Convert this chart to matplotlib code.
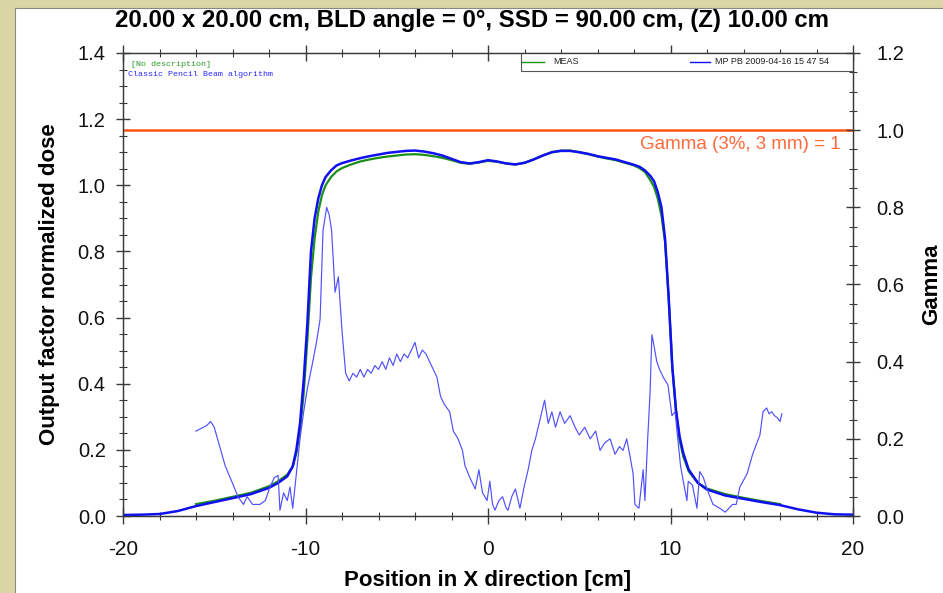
import matplotlib
matplotlib.use("Agg")
import matplotlib.pyplot as plt
from matplotlib.ticker import MultipleLocator, FormatStrFormatter
from matplotlib.patches import Rectangle
from matplotlib.lines import Line2D

# ---------------- data ----------------
title = "20.00 x 20.00 cm, BLD angle = 0°, SSD = 90.00 cm, (Z) 10.00 cm"
x_label = "Position in X direction [cm]"
y_label = "Output factor normalized dose"
y2_label = "Gamma"
legend_meas = "MEAS"
legend_calc = "MP PB 2009-04-16 15 47 54"
note_1 = "[No description]"
note_2 = "Classic Pencil Beam algorithm"
gamma_text = "Gamma (3%, 3 mm) = 1"
gamma_threshold = 1.0

calc_pts = [(-20, 0.003), (-19, 0.004), (-18, 0.006), (-17, 0.015), (-16, 0.03),
            (-15, 0.042), (-14, 0.054), (-13, 0.066), (-12, 0.085), (-11.5, 0.1),
            (-11, 0.12), (-10.7, 0.15), (-10.5, 0.2), (-10.3, 0.28), (-10.1, 0.41),
            (-9.9, 0.58), (-9.7, 0.8), (-9.5, 0.9), (-9.3, 0.96), (-9.1, 1.0),
            (-8.9, 1.025), (-8.6, 1.045), (-8.3, 1.06), (-8, 1.067), (-7.5, 1.075),
            (-7, 1.082), (-6.5, 1.088), (-6, 1.093), (-5.5, 1.098), (-5, 1.101),
            (-4.5, 1.104), (-4, 1.105), (-3.5, 1.102), (-3, 1.097), (-2.5, 1.09),
            (-2, 1.08), (-1.5, 1.07), (-1, 1.066), (-0.5, 1.07), (0, 1.076),
            (0.5, 1.072), (1, 1.066), (1.5, 1.063), (2, 1.068), (2.5, 1.078),
            (3, 1.09), (3.5, 1.1), (4, 1.104), (4.5, 1.104), (5, 1.1),
            (5.5, 1.095), (6, 1.088), (6.5, 1.083), (7, 1.078), (7.5, 1.07),
            (8, 1.062), (8.3, 1.056), (8.6, 1.045), (8.9, 1.028), (9.1, 1.012),
            (9.3, 0.98), (9.5, 0.935), (9.7, 0.84), (9.9, 0.66), (10.1, 0.45),
            (10.3, 0.32), (10.5, 0.24), (10.7, 0.19), (11, 0.14), (11.5, 0.1),
            (12, 0.08), (13, 0.062), (14, 0.052), (15, 0.042), (16, 0.033),
            (17, 0.02), (18, 0.01), (19, 0.005), (20, 0.004)]

meas_pts = [(-16, 0.036), (-15, 0.046), (-14, 0.058), (-13, 0.07), (-12, 0.09),
            (-11.5, 0.105), (-11, 0.125), (-10.7, 0.15), (-10.5, 0.19), (-10.3, 0.26),
            (-10.1, 0.37), (-9.9, 0.53), (-9.7, 0.72), (-9.5, 0.84), (-9.3, 0.92),
            (-9.1, 0.97), (-8.9, 1.0), (-8.6, 1.025), (-8.3, 1.042), (-8, 1.052),
            (-7.5, 1.063), (-7, 1.072), (-6.5, 1.078), (-6, 1.083), (-5.5, 1.087),
            (-5, 1.09), (-4.5, 1.093), (-4, 1.094), (-3.5, 1.092), (-3, 1.088),
            (-2.5, 1.083), (-2, 1.076), (-1.5, 1.068), (-1, 1.065), (-0.5, 1.069),
            (0, 1.074), (0.5, 1.071), (1, 1.066), (1.5, 1.063), (2, 1.068),
            (2.5, 1.078), (3, 1.09), (3.5, 1.1), (4, 1.105), (4.5, 1.105),
            (5, 1.1), (5.5, 1.094), (6, 1.087), (6.5, 1.081), (7, 1.076),
            (7.5, 1.068), (8, 1.06), (8.3, 1.052), (8.6, 1.04), (8.9, 1.015),
            (9.1, 0.995), (9.3, 0.96), (9.5, 0.91), (9.7, 0.83), (9.9, 0.66),
            (10.1, 0.45), (10.3, 0.32), (10.5, 0.23), (10.7, 0.18), (11, 0.135),
            (11.5, 0.1), (12, 0.083), (13, 0.066), (14, 0.055), (15, 0.045),
            (16, 0.036)]

gamma_pts = [(-16.0, 0.22), (-15.8, 0.225), (-15.6, 0.23), (-15.4, 0.235), (-15.2, 0.245),
             (-15.0, 0.23), (-14.7, 0.18), (-14.4, 0.13), (-14.0, 0.085), (-13.7, 0.05),
             (-13.4, 0.03), (-13.2, 0.05), (-12.9, 0.03), (-12.5, 0.03), (-12.2, 0.04),
             (-11.95, 0.075), (-11.7, 0.1), (-11.5, 0.105), (-11.4, 0.015), (-11.2, 0.06),
             (-11.0, 0.04), (-10.85, 0.075), (-10.7, 0.02), (-10.5, 0.11), (-10.3, 0.2),
             (-10.1, 0.27), (-9.9, 0.33), (-9.6, 0.4), (-9.4, 0.45), (-9.2, 0.51),
             (-9.04, 0.74), (-8.84, 0.80), (-8.7, 0.78), (-8.57, 0.74), (-8.38, 0.58),
             (-8.2, 0.62), (-8.0, 0.48), (-7.8, 0.37), (-7.6, 0.35), (-7.4, 0.37),
             (-7.2, 0.36), (-7.0, 0.38), (-6.8, 0.36), (-6.6, 0.38), (-6.4, 0.37),
             (-6.2, 0.39), (-6.0, 0.38), (-5.8, 0.40), (-5.6, 0.38), (-5.4, 0.41),
             (-5.2, 0.39), (-5.0, 0.42), (-4.8, 0.40), (-4.6, 0.42), (-4.4, 0.41),
             (-4.2, 0.43), (-4.0, 0.45), (-3.8, 0.41), (-3.6, 0.43), (-3.4, 0.42),
             (-3.2, 0.40), (-3.0, 0.38), (-2.8, 0.36), (-2.6, 0.31), (-2.4, 0.29),
             (-2.1, 0.27), (-1.9, 0.22), (-1.64, 0.2), (-1.4, 0.17), (-1.26, 0.13),
             (-1.0, 0.1), (-0.7, 0.07), (-0.5, 0.12), (-0.3, 0.06), (-0.05, 0.04),
             (0.1, 0.09), (0.25, 0.03), (0.38, 0.015), (0.6, 0.04), (0.8, 0.05),
             (1.0, 0.02), (1.1, 0.015), (1.3, 0.05), (1.5, 0.07), (1.75, 0.02),
             (2.0, 0.08), (2.2, 0.12), (2.4, 0.17), (2.6, 0.2), (2.85, 0.25),
             (3.1, 0.3), (3.3, 0.24), (3.5, 0.27), (3.7, 0.23), (3.95, 0.27),
             (4.2, 0.24), (4.5, 0.26), (4.77, 0.23), (5.0, 0.21), (5.3, 0.23),
             (5.6, 0.2), (5.9, 0.22), (6.14, 0.17), (6.4, 0.19), (6.69, 0.2),
             (6.96, 0.16), (7.2, 0.18), (7.4, 0.17), (7.6, 0.2), (7.8, 0.15),
             (7.95, 0.11), (8.05, 0.03), (8.27, 0.02), (8.5, 0.12), (8.6, 0.04),
             (8.75, 0.2), (8.88, 0.32), (8.98, 0.47), (9.1, 0.44), (9.25, 0.4),
             (9.4, 0.38), (9.6, 0.36), (9.86, 0.34), (10.08, 0.26), (10.25, 0.27),
             (10.4, 0.2), (10.55, 0.13), (10.7, 0.09), (10.9, 0.04), (10.97, 0.09),
             (11.2, 0.08), (11.45, 0.02), (11.6, 0.115), (11.8, 0.1), (12.0, 0.07),
             (12.33, 0.03), (12.7, 0.02), (13.0, 0.01), (13.2, 0.02), (13.4, 0.03),
             (13.6, 0.03), (13.8, 0.075), (14.2, 0.11), (14.5, 0.16), (14.9, 0.21),
             (15.07, 0.27), (15.27, 0.28), (15.4, 0.265), (15.55, 0.27), (15.7, 0.26),
             (15.85, 0.255), (16.0, 0.245), (16.1, 0.265)]

calc_x, calc_y = zip(*calc_pts)
meas_x, meas_y = zip(*meas_pts)
gamma_x, gamma_y = zip(*gamma_pts)

# ---------------- style ----------------
plt.rcParams['font.family'] = ['Liberation Sans', 'DejaVu Sans']
plt.rcParams['axes.unicode_minus'] = False
BEIGE = '#dad6a4'
GREEN = '#1a8f1a'
BLUE = '#1010f0'
GBLUE = '#5050ff'
ORANGE = '#ff5514'
SPINE = '#3a3a3a'

fig = plt.figure(figsize=(9.43, 5.93), dpi=100, facecolor=BEIGE)
panel = Rectangle((15 / 943, -0.01), 1 - 15 / 943 + 0.01, 1 - 8 / 593 + 0.01,
                  transform=fig.transFigure, facecolor='white',
                  edgecolor='#8a8a80', linewidth=0.8, zorder=-10)
fig.add_artist(panel)

ax = fig.add_axes([123 / 943, 77 / 593, 730 / 943, 463 / 593])
ax2 = ax.twinx()
ax.set_facecolor('white')
ax2.patch.set_visible(False)

ax.plot(meas_x, meas_y, color=GREEN, lw=1.6, zorder=3)
ax.plot(calc_x, calc_y, color=BLUE, lw=1.8, zorder=4)
ax2.plot(gamma_x, gamma_y, color=GBLUE, lw=0.85, zorder=2)
ax2.axhline(gamma_threshold, color=ORANGE, lw=1.8, zorder=1)
ax2.text(19.3, 0.962, gamma_text, color='#ff6a3c', fontsize=13.5,
         ha='right', va='center')

ax.set_xlim(-20, 20)
ax.set_ylim(0, 1.4)
ax2.set_ylim(0, 1.2)

ax.xaxis.set_major_locator(MultipleLocator(10))
ax.xaxis.set_minor_locator(MultipleLocator(2))
ax.yaxis.set_major_locator(MultipleLocator(0.2))
ax.yaxis.set_minor_locator(MultipleLocator(0.05))
ax2.yaxis.set_major_locator(MultipleLocator(0.2))
ax2.yaxis.set_minor_locator(MultipleLocator(0.05))
ax.yaxis.set_major_formatter(FormatStrFormatter('%.1f'))
ax2.yaxis.set_major_formatter(FormatStrFormatter('%.1f'))

for a in (ax, ax2):
    for s in a.spines.values():
        s.set_color(SPINE)
        s.set_linewidth(0.9)

ax.tick_params(axis='x', which='both', direction='inout', top=True,
               colors=SPINE, labelcolor='#111111', labelsize=15, pad=11.5)
ax.tick_params(axis='x', which='major', length=12, width=1.0)
ax.tick_params(axis='x', which='minor', length=6, width=0.8)
ax.tick_params(axis='y', which='both', direction='inout', colors=SPINE,
               labelcolor='#111111', labelsize=14.5, pad=7.5)
ax.tick_params(axis='y', which='major', length=10, width=1.0)
ax.tick_params(axis='y', which='minor', length=6, width=0.8)
ax2.tick_params(axis='y', which='both', direction='inout', colors=SPINE,
                labelcolor='#111111', labelsize=14.5, pad=12)
ax2.tick_params(axis='y', which='major', length=10, width=1.0)
ax2.tick_params(axis='y', which='minor', length=6, width=0.8)

ax.set_xlabel(x_label, fontsize=16, fontweight='bold', labelpad=8)
ax.set_ylabel(y_label, fontsize=16, fontweight='bold', labelpad=13)
ax2.set_ylabel(y2_label, fontsize=16, fontweight='bold', labelpad=12)
fig.text(472 / 943, 1 - 21 / 593, title, fontsize=17.3, fontweight='bold',
         ha='center', va='center')

# legend box (drawn in axes coordinates)
ax.add_patch(Rectangle((0.545, 0.962), 0.455, 0.038, transform=ax.transAxes,
                       facecolor='white', edgecolor='#555555', lw=0.8,
                       zorder=6, clip_on=False))
ax.add_line(Line2D([0.547, 0.577], [0.981, 0.981], transform=ax.transAxes,
                   color=GREEN, lw=1.0, zorder=7))
ax.text(0.589, 0.981, legend_meas, transform=ax.transAxes, fontsize=6.5,
        va='center', ha='left', color='#222222', zorder=7)
ax.add_line(Line2D([0.777, 0.804], [0.981, 0.981], transform=ax.transAxes,
                   color=BLUE, lw=1.0, zorder=7))
ax.text(0.811, 0.981, legend_calc, transform=ax.transAxes, fontsize=6.5,
        va='center', ha='left', color='#222222', zorder=7)

ax.text(0.011, 0.976, note_1, transform=ax.transAxes, fontsize=6,
        family='Liberation Mono', color='#2a9a2a', va='center', zorder=7)
ax.text(0.007, 0.954, note_2, transform=ax.transAxes, fontsize=6,
        family='Liberation Mono', color='#2a2aff', va='center', zorder=7)

fig.savefig('out.png', dpi=100, facecolor=fig.get_facecolor())
